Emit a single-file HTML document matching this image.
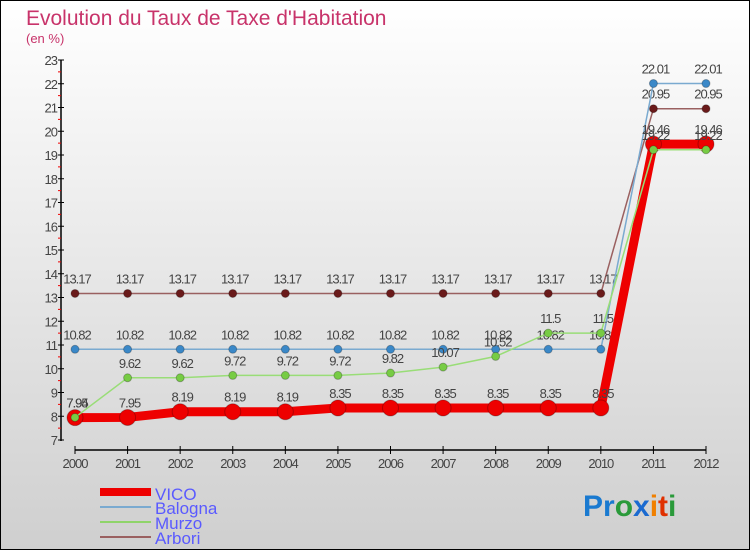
<!DOCTYPE html>
<html><head><meta charset="utf-8"><style>
body{margin:0}
#wrap{width:750px;height:550px;position:relative;background:linear-gradient(#fff,#cfcfcf);box-sizing:border-box;border:1px solid #000;font-family:"Liberation Sans",sans-serif;overflow:hidden}
text{font-family:"Liberation Sans",sans-serif}
</style></head><body>
<div id="wrap">
<svg id="svg" width="750" height="550" style="position:absolute;left:-1px;top:-1px">
<text x="26" y="25" font-size="21" fill="#c8336a">Evolution du Taux de Taxe d'Habitation</text>
<text x="26" y="43" font-size="13" fill="#c8336a">(en %)</text>
<g id="axes"></g><g id="series"></g>
<g>
<line x1="100" y1="492" x2="151" y2="492" stroke="#e00" stroke-width="8"/>
<text x="155" y="500" font-size="17" fill="#5a5aff">VICO</text>
<line x1="100" y1="507" x2="151" y2="507" stroke="#7aaad0" stroke-width="2"/>
<text x="155" y="514" font-size="17" fill="#5a5aff">Balogna</text>
<line x1="100" y1="522" x2="151" y2="522" stroke="#8fd46a" stroke-width="2"/>
<text x="155" y="529" font-size="17" fill="#5a5aff">Murzo</text>
<line x1="100" y1="537" x2="151" y2="537" stroke="#9a6060" stroke-width="2"/>
<text x="155" y="544" font-size="17" fill="#5a5aff">Arbori</text>
</g>
<g font-size="30" font-weight="600">
<text x="583" y="516"><tspan fill="#1a7ad0">Pr</tspan><tspan fill="#2a9a3a">o</tspan><tspan fill="#1a6ad0">x</tspan><tspan fill="#f08000">i</tspan><tspan fill="#e03000">t</tspan><tspan fill="#2a9a3a">i</tspan></text>
</g>
</svg>
</div>
<script>
const years=["2000","2001","2002","2003","2004","2005","2006","2007","2008","2009","2010","2011","2012"];
const yTicks=[7,8,9,10,11,12,13,14,15,16,17,18,19,20,21,22,23];
const vico=[7.94,7.95,8.19,8.19,8.19,8.35,8.35,8.35,8.35,8.35,8.35,19.46,19.46];
const balogna=[10.82,10.82,10.82,10.82,10.82,10.82,10.82,10.82,10.82,10.82,10.82,22.01,22.01];
const murzo=[7.95,9.62,9.62,9.72,9.72,9.72,9.82,10.07,10.52,11.5,11.5,19.22,19.22];
const arbori=[13.17,13.17,13.17,13.17,13.17,13.17,13.17,13.17,13.17,13.17,13.17,20.95,20.95];
const NS="http://www.w3.org/2000/svg";
const x=i=>75+i*(631/12);
const y=v=>440-(v-7)*23.75;
function mk(t,a,p){const e=document.createElementNS(NS,t);for(const k in a)e.setAttribute(k,a[k]);p.appendChild(e);return e;}
const ax=document.getElementById('axes'),sg=document.getElementById('series');
let e=mk('line',{x1:61,y1:60,x2:61,y2:441,stroke:'#000','stroke-width':1.5},ax);

yTicks.forEach(v=>{mk('line',{x1:58,y1:y(v),x2:64,y2:y(v),stroke:'#000'},ax);
 if(v<23)mk('line',{x1:58,y1:y(v+0.5),x2:61,y2:y(v+0.5),stroke:'#e00'},ax);
 const t=mk('text',{x:57,y:y(v)+5,'font-size':13,fill:'#444','text-anchor':'end','letter-spacing':'-1'},ax);t.textContent=v;
 });
e=mk('line',{x1:75,y1:450,x2:706,y2:450,stroke:'#000','stroke-width':1.5},ax);

years.forEach((yr,i)=>{mk('line',{x1:x(i),y1:446,x2:x(i),y2:454,stroke:'#000'},ax);
 const t=mk('text',{x:x(i),y:468,'font-size':13,fill:'#444','text-anchor':'middle','letter-spacing':'-1'},ax);t.textContent=yr;
 });
function series(name,d,col,mcol,w,r){
 const g=mk('g',{},sg);
 mk('polyline',{points:d.map((v,i)=>x(i)+','+y(v)).join(' '),fill:'none',stroke:col,'stroke-width':w},g);
 d.forEach((v,i)=>{const c=mk('circle',{cx:x(i),cy:y(v),r:r,fill:mcol,stroke:'rgba(0,0,0,0.25)'},g);
  
  const t=mk('text',{x:x(i)+2,y:y(v)-10,'font-size':13,fill:'#444','text-anchor':'middle','letter-spacing':'-1'},g);t.textContent=v;
  });
}
series('arbori',arbori,'#9a6060','#6a1a1a',1.5,4);
series('balogna',balogna,'#7aaad0','#3a88c8',1.5,4);
series('vico',vico,'#ee0000','#ee0000',9,8);
series('murzo',murzo,'#99dd77','#77cc44',1.5,4);
</script>
</body></html>
